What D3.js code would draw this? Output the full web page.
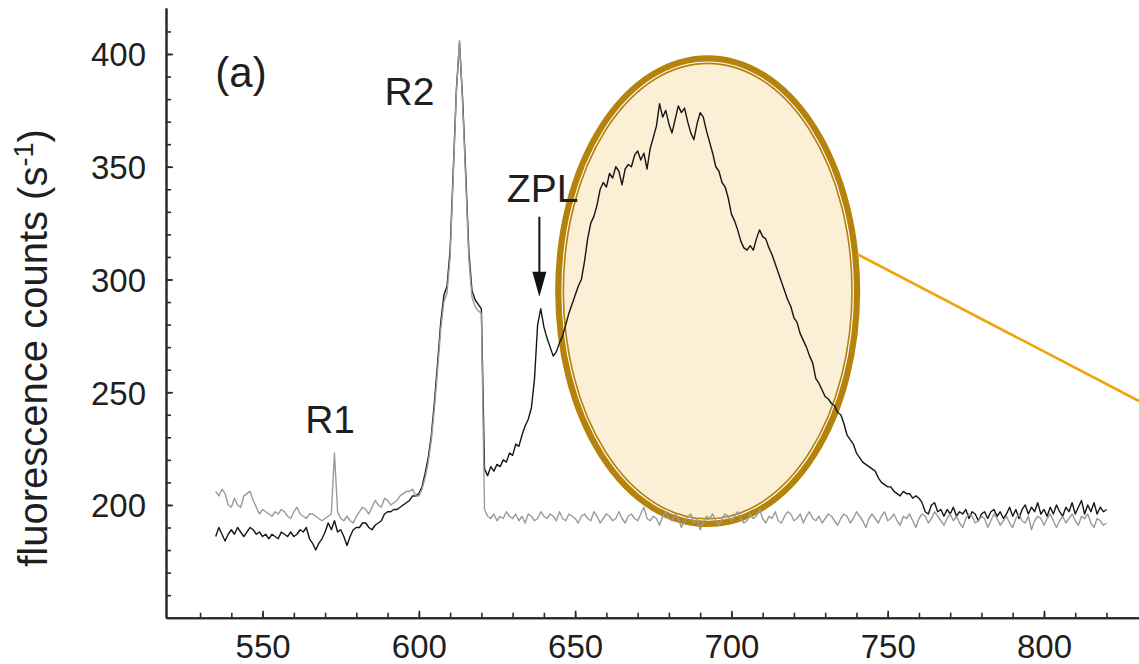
<!DOCTYPE html>
<html><head><meta charset="utf-8">
<script src="https://cdn.jsdelivr.net/npm/d3@7"></script>
<style>body{margin:0;background:#fff}svg{display:block}</style>
</head><body>
<svg id="chart" width="1139" height="664"></svg>
<script>
// wavelength grid (nm)
const wlStart = 535, wlStep = 1;
// grey spectrum (counts/s), 535..820 nm
const greyCounts = [
206,204,207,205,200,199,203,200,199,204,
205,206,202,199,196,198,197,196,195,197,
196,198,197,195,194,197,199,196,195,194,
196,196,195,194,193,194,195,196,223,197,
194,193,195,193,192,195,197,199,198,196,
199,202,200,199,203,202,200,201,202,204,
205,206,206,207,204,204,207,212,219,229,
243,260,278,290,294,310,346,383,406,378,
344,309,292,288,286,285,198,195,194,196,
193,195,194,197,195,194,196,193,195,192,
196,195,193,194,197,195,194,196,195,193,
197,194,193,196,195,194,192,195,196,194,
193,197,195,192,194,196,195,193,194,197,
194,192,195,196,194,193,196,199,194,193,
195,194,191,195,197,194,193,196,194,190,
193,195,196,192,194,189,192,195,194,196,
193,191,194,196,195,193,195,197,194,192,
193,196,194,195,198,194,192,195,194,197,
193,192,195,197,196,193,194,196,192,195,
197,194,193,195,192,194,196,195,193,191,
194,196,195,192,194,197,195,193,190,194,
196,194,192,195,197,193,194,196,193,191,
195,194,196,193,190,194,196,195,192,194,
197,195,193,191,194,196,193,195,192,190,
194,196,195,192,193,195,194,190,193,196,
194,191,193,195,192,190,194,196,193,192,
195,189,193,195,194,191,194,196,193,190,
193,195,192,194,196,193,191,195,194,196,
192,190,194,193,191,192
];
// black spectrum (counts/s), 535..820 nm
const blackCounts = [
186,190,187,184,187,189,187,190,188,186,
188,190,189,187,188,186,187,185,187,186,
185,188,187,186,188,186,187,189,188,190,
185,183,180,183,185,188,192,189,193,188,
189,186,182,186,189,190,190,192,192,190,
189,191,192,193,196,197,197,198,198,199,
200,201,202,204,204,205,208,214,221,231,
246,263,281,293,297,313,348,384,405,380,
347,312,295,291,289,287,216,213,217,215,
218,217,220,219,223,222,227,226,231,235,
238,243,256,280,287,279,274,270,266,268,
272,275,280,285,289,293,297,300,308,318,
325,328,333,340,343,341,347,345,350,348,
342,349,351,350,355,357,353,356,349,358,
363,368,378,372,375,369,365,371,377,374,
376,370,365,362,369,374,372,366,361,356,
350,348,343,341,336,329,326,322,317,314,
313,315,313,318,322,319,318,314,311,307,
303,299,295,291,288,283,281,276,273,270,
266,263,256,254,251,248,247,245,244,241,
240,236,231,229,227,223,221,219,218,217,
216,215,212,210,209,208,208,206,205,204,
206,205,205,203,204,203,201,197,196,200,
201,197,198,195,198,196,199,195,197,196,
198,194,197,196,193,196,197,194,197,198,
195,197,194,196,199,195,198,194,198,200,
196,199,197,201,196,198,195,199,196,200,
197,195,199,197,201,196,199,202,196,200,
197,201,196,199,197,198
];
const xMajorTicks = [550, 600, 650, 700, 750, 800];
const xMinorTicks = d3.range(530, 821, 10);
const yMajorTicks = [200, 250, 300, 350, 400];
const yMinorTicks = d3.range(160, 411, 10);
const yTitle = "fluorescence counts (s";
const yTitleSup = "-1";
const panelLabel = {text: "(a)", wl: 543.1, v: 385.3};
const peakLabels = [
  {text: "R1", wl: 571.6, v: 231.9},
  {text: "R2", wl: 597.0, v: 377.4},
  {text: "ZPL", wl: 639.6, v: 334.5}
];
const zplArrow = {wl: 638.55, vFrom: 327.8, vTo: 292.3};
const zoomEllipse = {wl0: 643.6, wl1: 741.2, v0: 190.2, v1: 399.5};
const zoomLine = {wl0: 740.2, v0: 311.3, wl1: 830.4, v1: 246.1};

const svg = d3.select("#chart");
const x = d3.scaleLinear().domain([519.1, 830.4]).range([166, 1139]);
const y = d3.scaleLinear().domain([150, 420.4]).range([617.7, 8]);
const font = "'Liberation Sans', Arial, Helvetica, sans-serif";
const ink = "#1f1f1f";

// zoom ellipse (under curves)
const ex0 = x(zoomEllipse.wl0), ex1 = x(zoomEllipse.wl1);
const ey0 = y(zoomEllipse.v1), ey1 = y(zoomEllipse.v0);
const ecx = (ex0 + ex1) / 2, ecy = (ey0 + ey1) / 2;
const erx = (ex1 - ex0) / 2, ery = (ey1 - ey0) / 2;
svg.append("ellipse").attr("cx", ecx).attr("cy", ecy)
  .attr("rx", erx - 4.5).attr("ry", ery - 4.5)
  .attr("fill", "#fbefd6").attr("stroke", "#b5830b").attr("stroke-width", 9);
svg.append("ellipse").attr("cx", ecx).attr("cy", ecy)
  .attr("rx", erx - 6.8).attr("ry", ery - 6.8)
  .attr("fill", "none").attr("stroke", "#fff").attr("stroke-width", 1.1);

// connector line
svg.append("line")
  .attr("x1", x(zoomLine.wl0)).attr("y1", y(zoomLine.v0))
  .attr("x2", x(zoomLine.wl1)).attr("y2", y(zoomLine.v1))
  .attr("stroke", "#efa30a").attr("stroke-width", 2.6);

// axes
const xAxisG = svg.append("g").attr("transform", `translate(0,${y(150)})`);
xAxisG.append("g").call(d3.axisBottom(x).tickValues(xMinorTicks).tickSize(-5).tickSizeOuter(0).tickFormat(""));
xAxisG.append("g").call(d3.axisBottom(x).tickValues(xMajorTicks).tickSize(-7).tickSizeOuter(0).tickFormat(d3.format("d")));
const yAxisG = svg.append("g").attr("transform", `translate(${x(519.1)},0)`);
yAxisG.append("g").call(d3.axisLeft(y).tickValues(yMinorTicks).tickSize(-5).tickSizeOuter(0).tickFormat(""));
yAxisG.append("g").call(d3.axisLeft(y).tickValues(yMajorTicks).tickSize(-7).tickSizeOuter(0).tickFormat(d3.format("d")));
svg.selectAll(".domain").attr("stroke", "#2a2a2a").attr("stroke-width", 2);
svg.selectAll(".tick line").attr("stroke", "#2a2a2a").attr("stroke-width", 1.6);
xAxisG.selectAll(".tick text").attr("y", 17).attr("dy", "0.72em")
  .attr("font-size", 33).attr("font-family", font).attr("fill", ink);
yAxisG.selectAll(".tick text").attr("x", -20).attr("dy", "0.36em")
  .attr("font-size", 33).attr("font-family", font).attr("fill", ink);

// y title
const yt = svg.append("text")
  .attr("transform", `translate(47,348) rotate(-90)`)
  .attr("text-anchor", "middle").attr("font-family", font)
  .attr("font-size", 40).attr("fill", ink);
yt.append("tspan").text(yTitle);
yt.append("tspan").attr("font-size", 27).attr("dy", -14).text(yTitleSup);
yt.append("tspan").attr("dy", 14).text(")");

// spectra
const line = d3.line().x((d, i) => x(wlStart + i * wlStep)).y(d => y(d));
svg.append("path").datum(blackCounts).attr("d", line)
  .attr("fill", "none").attr("stroke", "#151515").attr("stroke-width", 1.4).attr("stroke-linejoin", "round");
svg.append("path").datum(greyCounts).attr("d", line)
  .attr("fill", "none").attr("stroke", "#9a9a9a").attr("stroke-width", 1.4).attr("stroke-linejoin", "round");

// annotations
svg.append("text").attr("x", x(panelLabel.wl)).attr("y", y(panelLabel.v))
  .attr("text-anchor", "middle").attr("font-family", font).attr("font-size", 42)
  .attr("fill", ink).text(panelLabel.text);
svg.selectAll(".peak").data(peakLabels).enter().append("text")
  .attr("x", d => x(d.wl)).attr("y", d => y(d.v))
  .attr("text-anchor", "middle").attr("font-family", font).attr("font-size", 39)
  .attr("fill", ink).text(d => d.text);

// ZPL arrow
const ax = x(zplArrow.wl), ay0 = y(zplArrow.vFrom), ay1 = y(zplArrow.vTo);
svg.append("line").attr("x1", ax).attr("x2", ax).attr("y1", ay0).attr("y2", ay1 - 20)
  .attr("stroke", "#111").attr("stroke-width", 2);
svg.append("path").attr("d", `M${ax - 7},${ay1 - 25}L${ax + 7},${ay1 - 25}L${ax},${ay1}Z`).attr("fill", "#111");
</script>
</body></html>
